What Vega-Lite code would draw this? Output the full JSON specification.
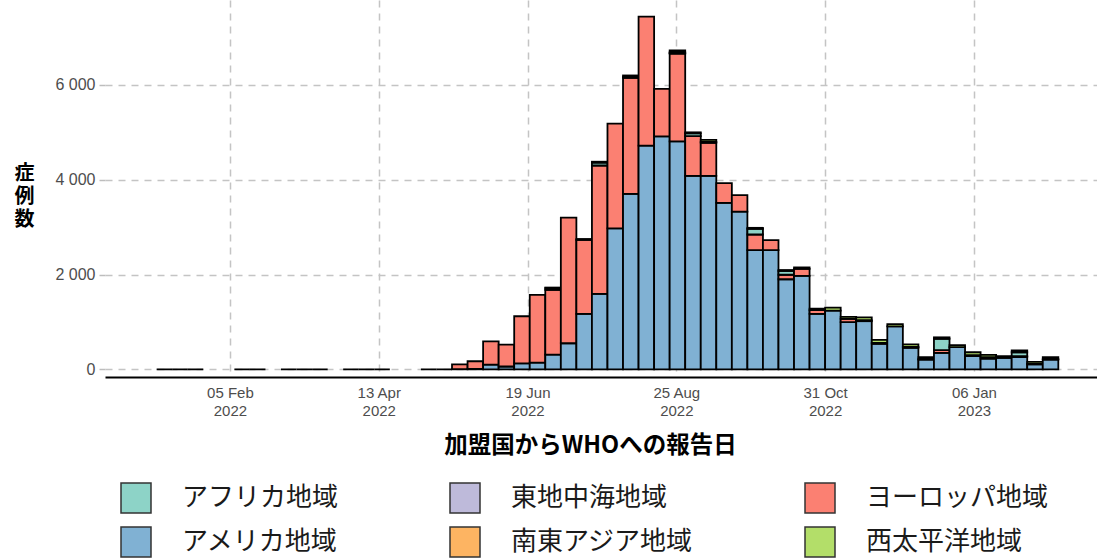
{
  "$schema": "https://vega.github.io/schema/vega-lite/v6.json",
  "autosize": {"type": "none"},
  "padding": {"left": 105, "top": 0, "right": 0, "bottom": 182},
  "width": 992,
  "height": 377,
  "background": "white",
  "config": {"view": {"stroke": null}},
  "datasets": {
    "cases": [
      {"week": "2022-01-03", "end": "2022-01-10", "region": "アメリカ地域", "cases": 0},
      {"week": "2022-01-10", "end": "2022-01-17", "region": "アメリカ地域", "cases": 0},
      {"week": "2022-01-17", "end": "2022-01-24", "region": "アメリカ地域", "cases": 0},
      {"week": "2022-02-07", "end": "2022-02-14", "region": "アメリカ地域", "cases": 0},
      {"week": "2022-02-14", "end": "2022-02-21", "region": "アメリカ地域", "cases": 0},
      {"week": "2022-02-28", "end": "2022-03-07", "region": "アメリカ地域", "cases": 0},
      {"week": "2022-03-07", "end": "2022-03-14", "region": "アメリカ地域", "cases": 0},
      {"week": "2022-03-14", "end": "2022-03-21", "region": "アメリカ地域", "cases": 0},
      {"week": "2022-03-28", "end": "2022-04-04", "region": "アメリカ地域", "cases": 0},
      {"week": "2022-04-04", "end": "2022-04-11", "region": "アメリカ地域", "cases": 0},
      {"week": "2022-04-11", "end": "2022-04-18", "region": "アメリカ地域", "cases": 0},
      {"week": "2022-05-02", "end": "2022-05-09", "region": "アメリカ地域", "cases": 0},
      {"week": "2022-05-09", "end": "2022-05-16", "region": "アメリカ地域", "cases": 0},
      {"week": "2022-05-16", "end": "2022-05-23", "region": "アメリカ地域", "cases": 5},
      {"week": "2022-05-16", "end": "2022-05-23", "region": "ヨーロッパ地域", "cases": 100},
      {"week": "2022-05-23", "end": "2022-05-30", "region": "アメリカ地域", "cases": 10},
      {"week": "2022-05-23", "end": "2022-05-30", "region": "ヨーロッパ地域", "cases": 160},
      {"week": "2022-05-30", "end": "2022-06-06", "region": "アメリカ地域", "cases": 100},
      {"week": "2022-05-30", "end": "2022-06-06", "region": "ヨーロッパ地域", "cases": 490},
      {"week": "2022-06-06", "end": "2022-06-13", "region": "アメリカ地域", "cases": 60},
      {"week": "2022-06-06", "end": "2022-06-13", "region": "ヨーロッパ地域", "cases": 460},
      {"week": "2022-06-13", "end": "2022-06-20", "region": "アメリカ地域", "cases": 125},
      {"week": "2022-06-13", "end": "2022-06-20", "region": "ヨーロッパ地域", "cases": 995},
      {"week": "2022-06-20", "end": "2022-06-27", "region": "アメリカ地域", "cases": 140},
      {"week": "2022-06-20", "end": "2022-06-27", "region": "ヨーロッパ地域", "cases": 1430},
      {"week": "2022-06-27", "end": "2022-07-04", "region": "アメリカ地域", "cases": 310},
      {"week": "2022-06-27", "end": "2022-07-04", "region": "ヨーロッパ地域", "cases": 1365},
      {"week": "2022-06-27", "end": "2022-07-04", "region": "アフリカ地域", "cases": 40},
      {"week": "2022-06-27", "end": "2022-07-04", "region": "西太平洋地域", "cases": 10},
      {"week": "2022-07-04", "end": "2022-07-11", "region": "アメリカ地域", "cases": 550},
      {"week": "2022-07-04", "end": "2022-07-11", "region": "ヨーロッパ地域", "cases": 2650},
      {"week": "2022-07-11", "end": "2022-07-18", "region": "アメリカ地域", "cases": 1170},
      {"week": "2022-07-11", "end": "2022-07-18", "region": "ヨーロッパ地域", "cases": 1560},
      {"week": "2022-07-11", "end": "2022-07-18", "region": "西太平洋地域", "cases": 20},
      {"week": "2022-07-18", "end": "2022-07-25", "region": "アメリカ地域", "cases": 1590},
      {"week": "2022-07-18", "end": "2022-07-25", "region": "ヨーロッパ地域", "cases": 2710},
      {"week": "2022-07-18", "end": "2022-07-25", "region": "アフリカ地域", "cases": 60},
      {"week": "2022-07-18", "end": "2022-07-25", "region": "西太平洋地域", "cases": 20},
      {"week": "2022-07-25", "end": "2022-08-01", "region": "アメリカ地域", "cases": 2975},
      {"week": "2022-07-25", "end": "2022-08-01", "region": "ヨーロッパ地域", "cases": 2210},
      {"week": "2022-08-01", "end": "2022-08-08", "region": "アメリカ地域", "cases": 3700},
      {"week": "2022-08-01", "end": "2022-08-08", "region": "ヨーロッパ地域", "cases": 2450},
      {"week": "2022-08-01", "end": "2022-08-08", "region": "西太平洋地域", "cases": 30},
      {"week": "2022-08-01", "end": "2022-08-08", "region": "南東アジア地域", "cases": 20},
      {"week": "2022-08-08", "end": "2022-08-15", "region": "アメリカ地域", "cases": 4720},
      {"week": "2022-08-08", "end": "2022-08-15", "region": "ヨーロッパ地域", "cases": 2720},
      {"week": "2022-08-15", "end": "2022-08-22", "region": "アメリカ地域", "cases": 4915},
      {"week": "2022-08-15", "end": "2022-08-22", "region": "ヨーロッパ地域", "cases": 1000},
      {"week": "2022-08-22", "end": "2022-08-29", "region": "アメリカ地域", "cases": 4810},
      {"week": "2022-08-22", "end": "2022-08-29", "region": "ヨーロッパ地域", "cases": 1850},
      {"week": "2022-08-22", "end": "2022-08-29", "region": "西太平洋地域", "cases": 40},
      {"week": "2022-08-22", "end": "2022-08-29", "region": "南東アジア地域", "cases": 20},
      {"week": "2022-08-22", "end": "2022-08-29", "region": "東地中海地域", "cases": 10},
      {"week": "2022-08-29", "end": "2022-09-05", "region": "アメリカ地域", "cases": 4080},
      {"week": "2022-08-29", "end": "2022-09-05", "region": "ヨーロッパ地域", "cases": 840},
      {"week": "2022-08-29", "end": "2022-09-05", "region": "アフリカ地域", "cases": 60},
      {"week": "2022-08-29", "end": "2022-09-05", "region": "西太平洋地域", "cases": 20},
      {"week": "2022-09-05", "end": "2022-09-12", "region": "アメリカ地域", "cases": 4080},
      {"week": "2022-09-05", "end": "2022-09-12", "region": "ヨーロッパ地域", "cases": 700},
      {"week": "2022-09-05", "end": "2022-09-12", "region": "アフリカ地域", "cases": 20},
      {"week": "2022-09-05", "end": "2022-09-12", "region": "西太平洋地域", "cases": 40},
      {"week": "2022-09-12", "end": "2022-09-19", "region": "アメリカ地域", "cases": 3510},
      {"week": "2022-09-12", "end": "2022-09-19", "region": "ヨーロッパ地域", "cases": 420},
      {"week": "2022-09-19", "end": "2022-09-26", "region": "アメリカ地域", "cases": 3325},
      {"week": "2022-09-19", "end": "2022-09-26", "region": "ヨーロッパ地域", "cases": 350},
      {"week": "2022-09-26", "end": "2022-10-03", "region": "アメリカ地域", "cases": 2515},
      {"week": "2022-09-26", "end": "2022-10-03", "region": "ヨーロッパ地域", "cases": 330},
      {"week": "2022-09-26", "end": "2022-10-03", "region": "アフリカ地域", "cases": 120},
      {"week": "2022-09-26", "end": "2022-10-03", "region": "西太平洋地域", "cases": 20},
      {"week": "2022-10-03", "end": "2022-10-10", "region": "アメリカ地域", "cases": 2515},
      {"week": "2022-10-03", "end": "2022-10-10", "region": "ヨーロッパ地域", "cases": 210},
      {"week": "2022-10-10", "end": "2022-10-17", "region": "アメリカ地域", "cases": 1900},
      {"week": "2022-10-10", "end": "2022-10-17", "region": "ヨーロッパ地域", "cases": 95},
      {"week": "2022-10-10", "end": "2022-10-17", "region": "アフリカ地域", "cases": 80},
      {"week": "2022-10-10", "end": "2022-10-17", "region": "西太平洋地域", "cases": 20},
      {"week": "2022-10-17", "end": "2022-10-24", "region": "アメリカ地域", "cases": 1970},
      {"week": "2022-10-17", "end": "2022-10-24", "region": "ヨーロッパ地域", "cases": 150},
      {"week": "2022-10-17", "end": "2022-10-24", "region": "西太平洋地域", "cases": 30},
      {"week": "2022-10-24", "end": "2022-10-31", "region": "アメリカ地域", "cases": 1170},
      {"week": "2022-10-24", "end": "2022-10-31", "region": "ヨーロッパ地域", "cases": 80},
      {"week": "2022-10-24", "end": "2022-10-31", "region": "西太平洋地域", "cases": 30},
      {"week": "2022-10-31", "end": "2022-11-07", "region": "アメリカ地域", "cases": 1240},
      {"week": "2022-10-31", "end": "2022-11-07", "region": "西太平洋地域", "cases": 60},
      {"week": "2022-11-07", "end": "2022-11-14", "region": "アメリカ地域", "cases": 995},
      {"week": "2022-11-07", "end": "2022-11-14", "region": "ヨーロッパ地域", "cases": 70},
      {"week": "2022-11-07", "end": "2022-11-14", "region": "西太平洋地域", "cases": 40},
      {"week": "2022-11-14", "end": "2022-11-21", "region": "アメリカ地域", "cases": 1015},
      {"week": "2022-11-14", "end": "2022-11-21", "region": "ヨーロッパ地域", "cases": 20},
      {"week": "2022-11-14", "end": "2022-11-21", "region": "西太平洋地域", "cases": 60},
      {"week": "2022-11-21", "end": "2022-11-28", "region": "アメリカ地域", "cases": 540},
      {"week": "2022-11-21", "end": "2022-11-28", "region": "ヨーロッパ地域", "cases": 20},
      {"week": "2022-11-21", "end": "2022-11-28", "region": "西太平洋地域", "cases": 60},
      {"week": "2022-11-28", "end": "2022-12-05", "region": "アメリカ地域", "cases": 905},
      {"week": "2022-11-28", "end": "2022-12-05", "region": "西太平洋地域", "cases": 50},
      {"week": "2022-12-05", "end": "2022-12-12", "region": "アメリカ地域", "cases": 455},
      {"week": "2022-12-05", "end": "2022-12-12", "region": "ヨーロッパ地域", "cases": 20},
      {"week": "2022-12-05", "end": "2022-12-12", "region": "西太平洋地域", "cases": 50},
      {"week": "2022-12-12", "end": "2022-12-19", "region": "アメリカ地域", "cases": 205},
      {"week": "2022-12-12", "end": "2022-12-19", "region": "ヨーロッパ地域", "cases": 10},
      {"week": "2022-12-12", "end": "2022-12-19", "region": "西太平洋地域", "cases": 40},
      {"week": "2022-12-19", "end": "2022-12-26", "region": "アメリカ地域", "cases": 345},
      {"week": "2022-12-19", "end": "2022-12-26", "region": "ヨーロッパ地域", "cases": 60},
      {"week": "2022-12-19", "end": "2022-12-26", "region": "アフリカ地域", "cases": 240},
      {"week": "2022-12-19", "end": "2022-12-26", "region": "西太平洋地域", "cases": 30},
      {"week": "2022-12-26", "end": "2023-01-02", "region": "アメリカ地域", "cases": 470},
      {"week": "2022-12-26", "end": "2023-01-02", "region": "西太平洋地域", "cases": 40},
      {"week": "2023-01-02", "end": "2023-01-09", "region": "アメリカ地域", "cases": 280},
      {"week": "2023-01-02", "end": "2023-01-09", "region": "ヨーロッパ地域", "cases": 20},
      {"week": "2023-01-02", "end": "2023-01-09", "region": "西太平洋地域", "cases": 60},
      {"week": "2023-01-09", "end": "2023-01-16", "region": "アメリカ地域", "cases": 225},
      {"week": "2023-01-09", "end": "2023-01-16", "region": "ヨーロッパ地域", "cases": 30},
      {"week": "2023-01-09", "end": "2023-01-16", "region": "西太平洋地域", "cases": 50},
      {"week": "2023-01-16", "end": "2023-01-23", "region": "アメリカ地域", "cases": 240},
      {"week": "2023-01-16", "end": "2023-01-23", "region": "西太平洋地域", "cases": 40},
      {"week": "2023-01-23", "end": "2023-01-30", "region": "アメリカ地域", "cases": 260},
      {"week": "2023-01-23", "end": "2023-01-30", "region": "ヨーロッパ地域", "cases": 20},
      {"week": "2023-01-23", "end": "2023-01-30", "region": "アフリカ地域", "cases": 80},
      {"week": "2023-01-23", "end": "2023-01-30", "region": "西太平洋地域", "cases": 40},
      {"week": "2023-01-30", "end": "2023-02-06", "region": "アメリカ地域", "cases": 105},
      {"week": "2023-01-30", "end": "2023-02-06", "region": "ヨーロッパ地域", "cases": 10},
      {"week": "2023-01-30", "end": "2023-02-06", "region": "西太平洋地域", "cases": 40},
      {"week": "2023-02-06", "end": "2023-02-13", "region": "アメリカ地域", "cases": 205},
      {"week": "2023-02-06", "end": "2023-02-13", "region": "ヨーロッパ地域", "cases": 10},
      {"week": "2023-02-06", "end": "2023-02-13", "region": "西太平洋地域", "cases": 40}
    ]
  },
  "data": {"name": "cases"},
  "transform": [
    {"calculate": "indexof(['アメリカ地域','ヨーロッパ地域','アフリカ地域','東地中海地域','南東アジア地域','西太平洋地域'], datum.region)", "as": "stackOrder"},
    {"stack": "cases", "groupby": ["week"], "sort": [{"field": "stackOrder", "order": "ascending"}], "as": ["y0", "y1"]}
  ],
  "mark": {"type": "bar", "stroke": "black", "strokeWidth": 1.8},
  "encoding": {
    "x": {
      "field": "week",
      "type": "temporal",
      "scale": {
        "type": "utc",
        "domain": [
          {"year": 2021, "month": 12, "date": 10, "hours": 18, "utc": true},
          {"year": 2023, "month": 3, "date": 2, "hours": 10, "utc": true}
        ]
      },
      "axis": {
        "title": "加盟国からWHOへの報告日",
        "titleFont": "Noto Sans CJK JP",
        "titleFontSize": 23.5,
        "titleFontWeight": "bold",
        "titleColor": "black",
        "titleX": 485,
        "titleY": 68,
        "titleAlign": "center",
        "titleBaseline": "middle",
        "values": [
          {"year": 2022, "month": 2, "date": 5, "utc": true},
          {"year": 2022, "month": 4, "date": 13, "utc": true},
          {"year": 2022, "month": 6, "date": 19, "utc": true},
          {"year": 2022, "month": 8, "date": 25, "utc": true},
          {"year": 2022, "month": 10, "date": 31, "utc": true},
          {"year": 2023, "month": 1, "date": 6, "utc": true}
        ],
        "labelExpr": "[utcFormat(datum.value, '%d %b'), utcFormat(datum.value, '%Y')]",
        "labelFont": "Liberation Sans",
        "labelFontSize": 15,
        "labelColor": "#4d4d4d",
        "labelLineHeight": 18,
        "labelPadding": 8,
        "ticks": false,
        "domain": true,
        "domainColor": "black",
        "domainWidth": 2,
        "grid": true,
        "gridColor": "#c4c4c4",
        "gridDash": [7, 6],
        "gridWidth": 1.5
      }
    },
    "x2": {"field": "end"},
    "y": {
      "field": "y0",
      "type": "quantitative",
      "scale": {"domain": [-162, 7792], "nice": false, "zero": false},
      "axis": {
        "title": ["症", "例", "数"],
        "titleAngle": 0,
        "titleFont": "Noto Sans CJK JP",
        "titleFontSize": 20,
        "titleFontWeight": "bold",
        "titleColor": "black",
        "titleLineHeight": 23,
        "titleX": -81,
        "titleY": 173,
        "titleAlign": "center",
        "titleBaseline": "middle",
        "values": [0, 2000, 4000, 6000],
        "labelExpr": "datum.value == 0 ? '0' : replace(format(datum.value, ','), ',', ' ')",
        "labelFont": "Liberation Sans",
        "labelFontSize": 16,
        "labelColor": "#4d4d4d",
        "labelPadding": 4,
        "domain": false,
        "ticks": true,
        "tickColor": "#bdbdbd",
        "tickSize": 6,
        "tickWidth": 1.5,
        "grid": true,
        "gridColor": "#c4c4c4",
        "gridDash": [7, 6],
        "gridWidth": 1.5
      }
    },
    "y2": {"field": "y1"},
    "color": {
      "field": "region",
      "type": "nominal",
      "scale": {
        "domain": ["アフリカ地域", "東地中海地域", "ヨーロッパ地域", "アメリカ地域", "南東アジア地域", "西太平洋地域"],
        "range": ["#8DD3C7", "#BEBADA", "#FB8072", "#80B1D3", "#FDB462", "#B3DE69"]
      },
      "legend": {
        "title": null,
        "orient": "none",
        "legendX": 15,
        "legendY": 482,
        "direction": "horizontal",
        "columns": 3,
        "gridAlign": "each",
        "columnPadding": 108,
        "rowPadding": 8,
        "padding": 0,
        "symbolType": "square",
        "symbolSize": 900,
        "symbolStrokeColor": "#333333",
        "symbolStrokeWidth": 1.5,
        "symbolOpacity": 1,
        "labelFont": "Noto Sans CJK JP",
        "labelFontSize": 26,
        "labelColor": "#1a1a1a",
        "labelOffset": 30,
        "labelLimit": 400
      }
    }
  }
}
